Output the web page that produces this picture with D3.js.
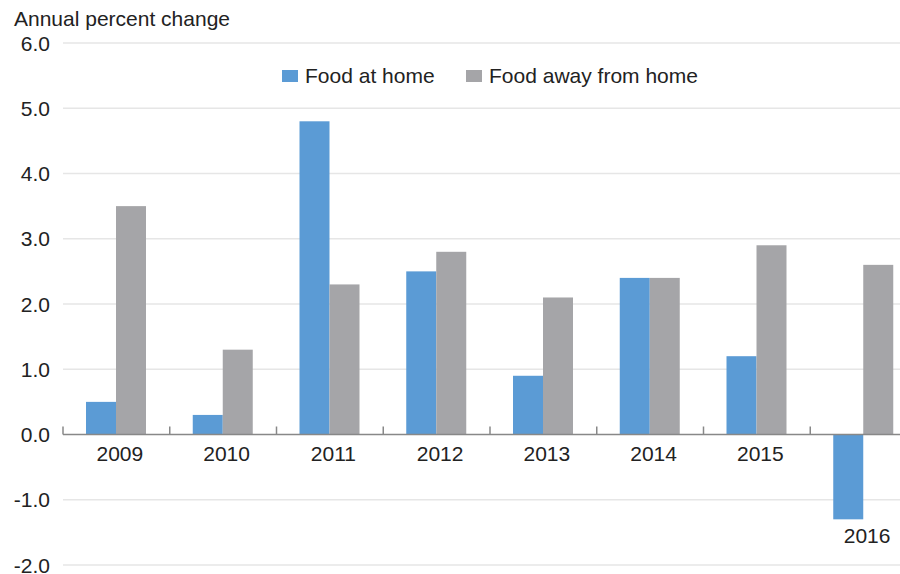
<!DOCTYPE html>
<html>
<head>
<meta charset="utf-8">
<script src="https://cdn.jsdelivr.net/npm/d3@7"></script>
<style>
  body { margin: 0; background: #fff; }
  svg { font-family: 'Liberation Sans', Arial, Helvetica, sans-serif; }
</style>
</head>
<body>
<div id="chart"></div>
<script>
const years = ['2009', '2010', '2011', '2012', '2013', '2014', '2015', '2016']
const foodAtHome = [0.5, 0.3, 4.8, 2.5, 0.9, 2.4, 1.2, -1.3]
const foodAway = [3.5, 1.3, 2.3, 2.8, 2.1, 2.4, 2.9, 2.6]
const yTicks = [-2, -1, 0, 1, 2, 3, 4, 5, 6]
const seriesNames = ['Food at home', 'Food away from home']
const colors = ['#5b9bd5', '#a5a5a8']

const width = 900
const height = 574
const fontSize = 21

const svg = d3.select('#chart')
  .append('svg')
  .attr('width', width)
  .attr('height', height)

const x = d3.scaleBand()
  .domain(years)
  .range([63, 917])

const y = d3.scaleLinear()
  .domain([-2, 6])
  .range([565, 43])

// gridlines
svg.append('g')
  .selectAll('line')
  .data(yTicks.filter(d => d !== 0))
  .join('line')
  .attr('x1', 63)
  .attr('x2', width)
  .attr('y1', d => y(d))
  .attr('y2', d => y(d))
  .attr('stroke', '#e6e6e6')
  .attr('stroke-width', 1.5)

// y labels
svg.append('g')
  .selectAll('text')
  .data(yTicks)
  .join('text')
  .attr('x', 50)
  .attr('y', d => y(d))
  .attr('dy', '0.36em')
  .attr('text-anchor', 'end')
  .attr('font-size', fontSize)
  .attr('fill', '#222')
  .text(d => d.toFixed(1))

// bars
const barW = 30
const pad = 23
const rows = years.map((yr, i) => ({ yr, values: [foodAtHome[i], foodAway[i]] }))

const groups = svg.append('g')
  .selectAll('g')
  .data(rows)
  .join('g')
  .attr('transform', d => `translate(${x(d.yr)},0)`)

groups.selectAll('rect')
  .data(d => d.values)
  .join('rect')
  .attr('x', (d, i) => pad + i * barW)
  .attr('width', barW)
  .attr('y', d => y(Math.max(0, d)))
  .attr('height', d => Math.abs(y(d) - y(0)))
  .attr('fill', (d, i) => colors[i])

// zero axis line and ticks
svg.append('line')
  .attr('x1', 63)
  .attr('x2', width)
  .attr('y1', y(0))
  .attr('y2', y(0))
  .attr('stroke', '#888')
  .attr('stroke-width', 1.5)

svg.append('g')
  .selectAll('line')
  .data(years)
  .join('line')
  .attr('x1', d => x(d))
  .attr('x2', d => x(d))
  .attr('y1', y(0))
  .attr('y2', y(0) - 8)
  .attr('stroke', '#888')
  .attr('stroke-width', 1.5)

// year labels
svg.append('g')
  .selectAll('text')
  .data(rows)
  .join('text')
  .attr('x', d => x(d.yr) + x.bandwidth() / 2 + 3.5)
  .attr('y', d => Math.min(...d.values) < 0 ? y(Math.min(...d.values)) + 24 : y(0) + 26)
  .attr('text-anchor', 'middle')
  .attr('font-size', fontSize)
  .attr('fill', '#222')
  .text(d => d.yr)

// y axis title
svg.append('text')
  .attr('x', 14)
  .attr('y', 26)
  .attr('font-size', fontSize)
  .attr('fill', '#222')
  .text('Annual percent change')

// legend
const legendX = [282, 466]
const legend = svg.append('g')
  .selectAll('g')
  .data(seriesNames)
  .join('g')
  .attr('transform', (d, i) => `translate(${legendX[i]},70)`)

legend.append('rect')
  .attr('width', 16)
  .attr('height', 12)
  .attr('fill', (d, i) => colors[i])

legend.append('text')
  .attr('x', 23)
  .attr('y', 13)
  .attr('font-size', fontSize)
  .attr('fill', '#222')
  .text(d => d)
</script>
</body>
</html>
